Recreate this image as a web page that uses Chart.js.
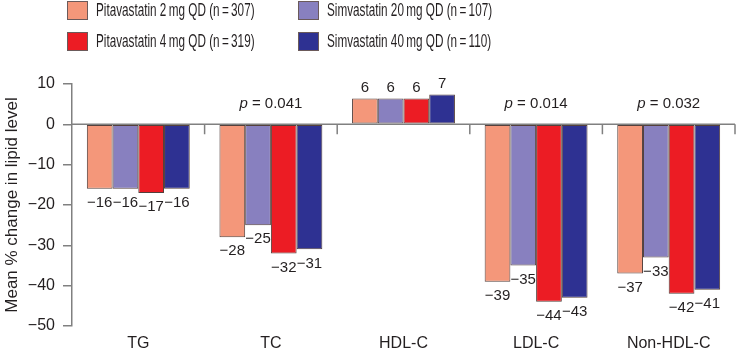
<!DOCTYPE html>
<html>
<head>
<meta charset="utf-8">
<script src="https://cdn.jsdelivr.net/npm/chart.js@4/dist/chart.umd.min.js"></script>
<style>
  html, body { margin: 0; padding: 0; background: #fff; }
  #wrap { position: relative; width: 736px; height: 359px; }
  #legend { position: absolute; left: 0; top: 0; width: 736px; height: 60px; font-family: "Liberation Sans", Arial, sans-serif; color: #231f20; }
  .item { position: absolute; height: 18px; }
  .box { position: absolute; left: 0; top: 0; width: 19px; height: 17px; border: 1px solid #6b5a5a; }
  .txt { position: absolute; left: 29px; top: -2px; font-size: 17.5px; line-height: 22px; white-space: nowrap; transform: scaleX(0.67); transform-origin: left center; }
</style>
</head>
<body>
<div id="wrap">
  <canvas id="lipids" width="736" height="359"></canvas>
  <div id="legend"></div>
</div>
<script>
const categories = ["TG", "TC", "HDL-C", "LDL-C", "Non-HDL-C"];
const seriesNames = [
  "Pitavastatin 2\u2009mg QD (n\u2009=\u2009307)",
  "Simvastatin 20\u2009mg QD (n\u2009=\u2009107)",
  "Pitavastatin 4\u2009mg QD (n\u2009=\u2009319)",
  "Simvastatin 40\u2009mg QD (n\u2009=\u2009110)"
];
const pita2 = [-16, -28, 6.4, -39, -37];
const simva20 = [-16, -25, 6.4, -35, -33];
const pita4 = [-17, -32, 6.4, -44, -42];
const simva40 = [-16, -31, 7.4, -43, -41];
const pValues = [null, "0.041", null, "0.014", "0.032"];
const yTicks = [10, 0, -10, -20, -30, -40, -50];

const colors = ["#f4977a", "#8880bf", "#ec1c24", "#2e3192"];
const seriesData = [pita2, simva20, pita4, simva40];
const gray = "#808080";
const textColor = "#231f20";

// legend in two columns, like the figure
const legendPos = [[67, 1], [298, 1], [67, 32], [298, 32]];
const legend = document.getElementById("legend");
seriesNames.forEach((name, i) => {
  const el = document.createElement("div");
  el.className = "item";
  el.style.left = legendPos[i][0] + "px";
  el.style.top = legendPos[i][1] + "px";
  el.innerHTML = `<div class="box" style="background:${colors[i]}"></div><div class="txt">${name}</div>`;
  legend.appendChild(el);
});

const minus = (v) => (v < 0 ? "\u2212" + Math.abs(v) : String(v));

const extras = {
  id: "extras",
  afterDatasetsDraw(chart) {
    const { ctx, chartArea, scales } = chart;
    const x = scales.x, y = scales.y;
    const y0 = y.getPixelForValue(0);
    const half = (x.getPixelForValue(1) - x.getPixelForValue(0)) / 2;
    ctx.save();
    // zero line and category separators
    ctx.strokeStyle = gray;
    ctx.lineWidth = 1.5;
    ctx.beginPath();
    ctx.moveTo(chartArea.left, y0);
    ctx.lineTo(chartArea.right, y0);
    categories.forEach((c, i) => {
      const bx = x.getPixelForValue(i) + half;
      ctx.moveTo(bx, y0);
      ctx.lineTo(bx, y0 + 10);
    });
    ctx.stroke();

    // value labels
    ctx.fillStyle = textColor;
    ctx.font = '15px "Liberation Sans", Arial, sans-serif';
    ctx.textAlign = "center";
    ctx.textBaseline = "middle";
    chart.data.datasets.forEach((ds, di) => {
      chart.getDatasetMeta(di).data.forEach((bar, i) => {
        const v = Math.round(ds.data[i]);
        const ty = v < 0 ? bar.y + 14 : bar.y - 11;
        ctx.fillText(minus(v), bar.x, ty);
      });
    });

    // p values
    pValues.forEach((p, i) => {
      if (!p) return;
      const cx = x.getPixelForValue(i);
      const cy = y.getPixelForValue(5.2);
      ctx.font = 'italic 15px "Liberation Sans", Arial, sans-serif';
      const pw = ctx.measureText("p").width;
      ctx.font = '15px "Liberation Sans", Arial, sans-serif';
      const rest = " = " + p;
      const rw = ctx.measureText(rest).width;
      const start = cx - (pw + rw) / 2;
      ctx.textAlign = "left";
      ctx.font = 'italic 15px "Liberation Sans", Arial, sans-serif';
      ctx.fillText("p", start, cy);
      ctx.font = '15px "Liberation Sans", Arial, sans-serif';
      ctx.fillText(rest, start + pw, cy);
      ctx.textAlign = "center";
    });
    ctx.restore();
  }
};

new Chart(document.getElementById("lipids"), {
  type: "bar",
  data: {
    labels: categories,
    datasets: seriesNames.map((name, i) => ({
      label: name,
      data: seriesData[i],
      backgroundColor: colors[i],
      borderColor: "#54403c",
      borderWidth: 1,
      borderSkipped: false,
      categoryPercentage: 0.776,
      barPercentage: 1
    }))
  },
  options: {
    responsive: false,
    animation: false,
    layout: { padding: { top: 84, right: 1, left: 0, bottom: 0 } },
    plugins: { legend: { display: false }, tooltip: { enabled: false } },
    scales: {
      x: {
        grid: { display: false },
        border: { display: false },
        ticks: { color: textColor, font: { size: 16, family: '"Liberation Sans", Arial, sans-serif' }, padding: 0 },
        afterFit: (s) => { s.height = 33; }
      },
      y: {
        min: -50,
        max: 10,
        afterBuildTicks: (s) => { s.ticks = yTicks.map((v) => ({ value: v })); },
        grid: { drawOnChartArea: false, drawTicks: true, tickLength: 9, color: gray, lineWidth: 1.5 },
        border: { display: true, color: gray, width: 1.5 },
        ticks: {
          color: textColor,
          padding: 8,
          font: { size: 16, family: '"Liberation Sans", Arial, sans-serif' },
          callback: (v) => minus(v)
        },
        title: {
          display: true,
          text: "Mean % change in lipid level",
          color: textColor,
          font: { size: 17, family: '"Liberation Sans", Arial, sans-serif' },
          padding: { top: 2, bottom: 0 }
        },
        afterFit: (s) => { s.width = 72; }
      }
    }
  },
  plugins: [extras]
});
</script>
</body>
</html>
